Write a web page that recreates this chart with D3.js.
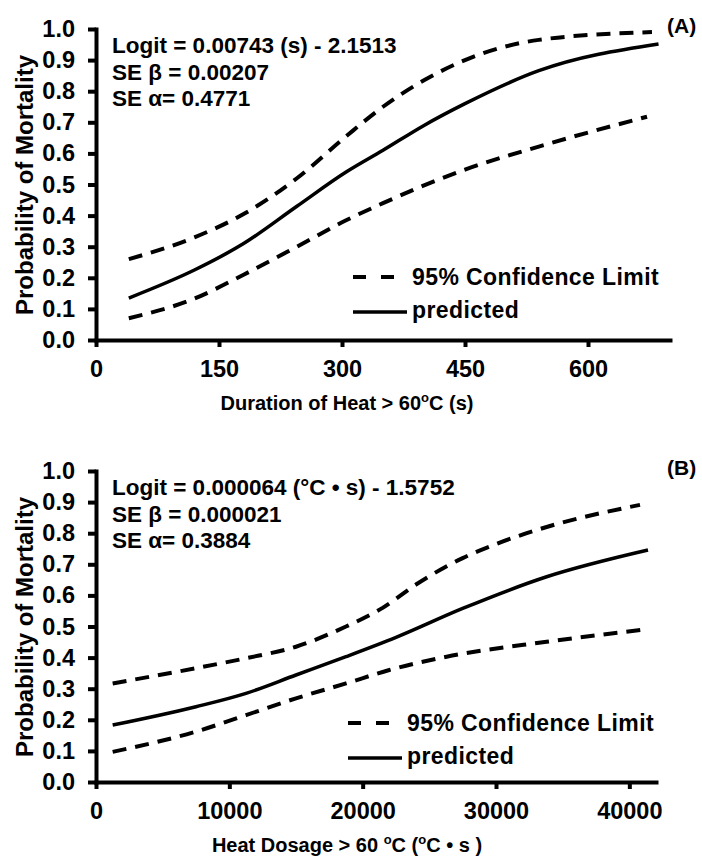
<!DOCTYPE html>
<meta charset="utf-8">
<title>Probability of Mortality</title>
<script src="https://d3js.org/d3.v7.min.js"></script>
<style>
body { margin:0; background:#fff; }
svg { display:block; font-family:"Liberation Sans", Arial, sans-serif; font-weight:bold; }
.axis path, .axis line { stroke:#000; stroke-width:4; }
.axis text { font-family:"Liberation Sans", Arial, sans-serif; font-size:23.5px; font-weight:bold; fill:#000; }
.fit { fill:none; stroke:#000; stroke-width:3.5; }
.ci { fill:none; stroke:#000; stroke-width:4; stroke-dasharray:14,9; }
.note { font-size:22.5px; }
.leg { font-size:23px; letter-spacing:0.4px; }
.ttl { font-size:20px; }
.tag { font-size:21px; }
.ylab { font-size:24px; }
</style>
<svg width="702" height="857"></svg>
<script>

// (A) duration of heat > 60 C (s)
var durTicks = [0, 150, 300, 450, 600];
var durPredX = [40, 120, 180, 245, 305, 350, 400, 450, 540, 686];
var durPred  = [0.135, 0.225, 0.31, 0.43, 0.54, 0.61, 0.69, 0.76, 0.866, 0.952];
var durUpX   = [40, 120, 180, 245, 305, 350, 400, 450, 540, 678];
var durUp    = [0.26, 0.33, 0.405, 0.52, 0.655, 0.75, 0.835, 0.90, 0.965, 0.99];
var durLoX   = [40, 120, 180, 245, 305, 350, 450, 540, 672];
var durLo    = [0.07, 0.133, 0.21, 0.30, 0.385, 0.44, 0.548, 0.622, 0.718];

// (B) heat dosage > 60 C (C*s)
var dosTicks = [0, 10000, 20000, 30000, 40000];
var dosPredX = [1250, 7500, 11250, 15000, 18750, 22500, 27500, 33800, 41400];
var dosPred  = [0.183, 0.242, 0.285, 0.344, 0.403, 0.465, 0.558, 0.66, 0.746];
var dosUpX   = [1250, 7500, 11250, 15000, 18750, 21500, 24000, 27500, 30000, 33800, 40800];
var dosUp    = [0.317, 0.366, 0.398, 0.435, 0.5, 0.56, 0.635, 0.72, 0.765, 0.82, 0.891];
var dosLoX   = [1250, 7500, 11250, 15000, 18750, 22000, 26300, 33800, 41300];
var dosLo    = [0.097, 0.162, 0.215, 0.269, 0.317, 0.36, 0.403, 0.451, 0.491];

var yTicks = d3.range(0, 11).map(function(i) { return i / 10; });

var notesA = ["Logit = 0.00743 (s) - 2.1513", "SE \u03b2 = 0.00207", "SE \u03b1= 0.4771"];
var notesB = ["Logit = 0.000064 (\u00b0C \u2022 s) - 1.5752", "SE \u03b2 = 0.000021", "SE \u03b1= 0.3884"];

var svg = d3.select("svg");

function panel(o) {
  var x = d3.scaleLinear().domain(o.xDomain).range([96, o.xEnd]),
      y = d3.scaleLinear().domain([0, 1]).range([o.top + 311, o.top]);
  var g = svg.append("g");

  g.append("g")
      .attr("class", "axis")
      .attr("transform", "translate(0," + (o.top + 311) + ")")
      .call(d3.axisBottom(x).tickValues(o.ticks).tickFormat(d3.format("d"))
        .tickSize(7).tickSizeOuter(0).tickPadding(13));

  g.append("g")
      .attr("class", "axis")
      .attr("transform", "translate(96,0)")
      .call(d3.axisLeft(y).tickValues(yTicks).tickFormat(d3.format(".1f"))
        .tickSize(8).tickSizeOuter(0).tickPadding(13));

  g.selectAll(".axis path").attr("stroke-linecap", "square");

  var line = d3.line()
      .x(function(d) { return x(d[0]); })
      .y(function(d) { return y(d[1]); })
      .curve(d3.curveMonotoneX);

  g.append("path").attr("class", "ci").attr("d", line(d3.zip(o.upX, o.up)));
  g.append("path").attr("class", "ci").attr("d", line(d3.zip(o.loX, o.lo)));
  g.append("path").attr("class", "fit").attr("d", line(d3.zip(o.predX, o.pred)));

  // regression note
  g.append("g").selectAll("text")
    .data(o.notes)
    .enter().append("text")
      .attr("class", "note")
      .attr("x", 112)
      .attr("y", function(d, i) { return o.top + 24 + i * 26.5; })
      .text(function(d) { return d; });

  g.append("text").attr("class", "tag")
      .attr("x", 667).attr("y", o.top + 4).text(o.tag);

  // legend
  var lg = g.append("g").attr("transform", "translate(" + o.legX + "," + o.legY + ")");
  lg.append("line").attr("x1", 0).attr("x2", 42).attr("y1", 0).attr("y2", 0)
      .attr("stroke", "#000").attr("stroke-width", 4).attr("stroke-dasharray", "13,15");
  lg.append("line").attr("x1", 0).attr("x2", 54).attr("y1", 35).attr("y2", 35)
      .attr("stroke", "#000").attr("stroke-width", 3.5);
  lg.append("text").attr("class", "leg").attr("x", o.legTx).attr("y", 8).text("95% Confidence Limit");
  lg.append("text").attr("class", "leg").attr("x", o.legTx).attr("y", 41).text("predicted");

  // axis titles
  g.append("text").attr("class", "ylab")
      .attr("transform", "translate(33," + (o.top + 156) + ") rotate(-90)")
      .attr("text-anchor", "middle")
      .text("Probability of Mortality");

  var xt = g.append("text").attr("class", "ttl")
      .attr("x", 347).attr("y", o.top + 381)
      .attr("text-anchor", "middle");
  // pieces: [text, superscript?]
  var raised = false;
  o.xTitle.forEach(function(p) {
    var t = xt.append("tspan").text(p[0]);
    if (p[1]) { t.attr("font-size", "13px").attr("dy", raised ? 0 : -8); raised = true; }
    else { t.attr("dy", raised ? 8 : 0); raised = false; }
  });
}

panel({
  top: 29, xDomain: [0, 700], xEnd: 670, ticks: durTicks,
  predX: durPredX, pred: durPred, upX: durUpX, up: durUp, loX: durLoX, lo: durLo,
  notes: notesA, tag: "(A)", legX: 353, legY: 277, legTx: 59,
  xTitle: [["Duration of Heat > 60"], ["o", true], ["C (s)"]]
});

panel({
  top: 471, xDomain: [0, 42000], xEnd: 656, ticks: dosTicks,
  predX: dosPredX, pred: dosPred, upX: dosUpX, up: dosUp, loX: dosLoX, lo: dosLo,
  notes: notesB, tag: "(B)", legX: 348, legY: 723, legTx: 59,
  xTitle: [["Heat Dosage > 60 "], ["o", true], ["C ("], ["o", true], ["C \u2022 s )"]]
});

</script>
</html>
